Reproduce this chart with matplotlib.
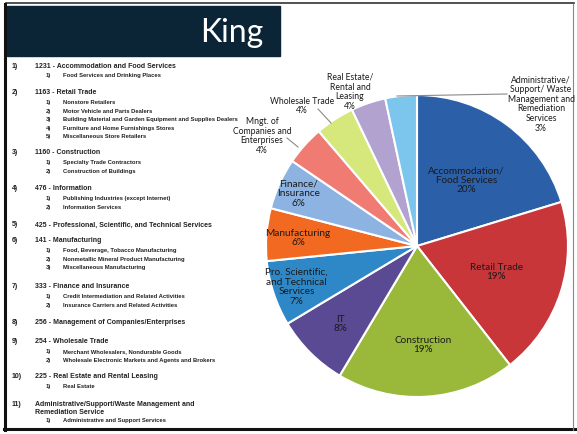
import numpy as np
import matplotlib
matplotlib.use("Agg")
from matplotlib import pyplot as plt
from matplotlib.patches import Rectangle

# pie data (counts, clockwise from 12 o'clock)
sectors = ["Accommodation/\nFood Services", "Retail Trade", "Construction", "IT",
           "Pro. Scientific,\nand Technical\nServices", "Manufacturing", "Finance/\nInsurance",
           "Mngt. of\nCompanies and\nEnterprises", "Wholesale Trade",
           "Real Estate/\nRental and\nLeasing",
           "Administrative/\nSupport/ Waste\nManagement and\nRemediation\nServices"]
counts = [1231, 1163, 1160, 476, 425, 341, 333, 256, 254, 225, 205]
pct_labels = ["20%", "19%", "19%", "8%", "7%", "6%", "6%", "4%", "4%", "4%", "3%"]
colors = ["#2b5fa8", "#c8363a", "#9ab93a", "#5a4a93", "#2e88c8", "#f26a21",
          "#8db3e2", "#ef7b72", "#d6e77c", "#b1a2cf", "#7cc6ee"]

# left hand list
headers = ["1231 - Accommodation and Food Services", "1163 - Retail Trade", "1160 - Construction",
           "476 - Information", "425 - Professional, Scientific, and Technical Services",
           "141 - Manufacturing", "333 - Finance and Insurance",
           "256 - Management of Companies/Enterprises", "254 - Wholesale Trade",
           "225 - Real Estate and Rental Leasing",
           "Administrative/Support/Waste Management and\nRemediation Service"]
subitems = [["Food Services and Drinking Places"],
            ["Nonstore Retailers", "Motor Vehicle and Parts Dealers",
             "Building Material and Garden Equipment and Supplies Dealers",
             "Furniture and Home Furnishings Stores", "Miscellaneous Store Retailers"],
            ["Specialty Trade Contractors", "Construction of Buildings"],
            ["Publishing Industries (except Internet)", "Information Services"],
            [],
            ["Food, Beverage, Tobacco Manufacturing", "Nonmetallic Mineral Product Manufacturing",
             "Miscellaneous Manufacturing"],
            ["Credit Intermediation and Related Activities", "Insurance Carriers and Related Activities"],
            [],
            ["Merchant Wholesalers, Nondurable Goods", "Wholesale Electronic Markets and Agents and Brokers"],
            ["Real Estate"],
            ["Administrative and Support Services"]]
header_y = [66, 93, 153, 189, 225, 241, 287, 323, 342, 377, 405]

W, H = 577, 435
fig = plt.figure(figsize=(W / 100, H / 100), dpi=100)
bg = fig.add_axes([0, 0, 1, 1])
bg.set_xlim(0, W)
bg.set_ylim(H, 0)
bg.axis('off')

# slide frame
bg.plot([6, 574], [4, 4], color="#333333", lw=1.2)
bg.plot([5, 5], [5, 431], color="#111111", lw=2.2)
bg.plot([4, 576], [430, 430], color="#111111", lw=2.2)
bg.plot([573, 573], [5, 431], color="#888888", lw=0.8)

# title bar
bg.add_patch(Rectangle((7, 7), 273, 50, color="#0b2536"))
bg.text(263, 33, "King", color="white", fontsize=23, family="Lato",
        ha="right", va="center")

# list text
txt = dict(family="Liberation Sans", weight="bold", color="#222222")
fs_h, fs_s = 5.0, 4.2
for i, (h, y) in enumerate(zip(headers, header_y)):
    two_lines = "\n" in h
    bg.text(12, y, "%d)" % (i + 1), fontsize=fs_h, va="center", **txt)
    if two_lines:
        bg.text(35, y - 4, h, fontsize=fs_h, va="top", linespacing=1.25, **txt)
    else:
        bg.text(35, y, h, fontsize=fs_h, va="center", **txt)
    y0 = y + (16 if two_lines else 9.5)
    for j, s in enumerate(subitems[i]):
        yy = y0 + j * 8.6
        bg.text(46, yy, "%d)" % (j + 1), fontsize=fs_s, va="center", **txt)
        bg.text(63, yy, s, fontsize=fs_s, va="center", **txt)

# pie
cx, cy, R = 417, 247, 151
ax = fig.add_axes([(cx - R) / W, (H - cy - R) / H, 2 * R / W, 2 * R / H])
wedges, _ = ax.pie(counts, colors=colors, startangle=90, counterclock=False,
                   wedgeprops=dict(edgecolor="white", linewidth=1.5))
ax.set_xlim(-1, 1)
ax.set_ylim(-1, 1)
ax.set_aspect('equal')

inside_r = [0.55, 0.55, 0.65, 0.72, 0.84, 0.79, 0.86]
for i, r in enumerate(inside_r):
    w = wedges[i]
    a = np.deg2rad((w.theta1 + w.theta2) / 2)
    ax.text(r * np.cos(a), r * np.sin(a), sectors[i] + "\n" + pct_labels[i],
            ha="center", va="center", fontsize=7.2, family="Lato",
            color="#1a1a1a", linespacing=1.1)

# outside labels: text position (pixels), leader line (pixels) or None
out_pos = [(262, 136), (302, 106), (350, 92), (541, 104)]
out_line = [((287, 139), (298, 148)), ((318, 110), (331, 124)), None,
            ((507, 95), (397, 97))]
for k, (pos, ln) in enumerate(zip(out_pos, out_line)):
    i = 7 + k
    px, py = pos
    ax.text((px - cx) / R, (cy - py) / R, sectors[i] + "\n" + pct_labels[i],
            ha="center", va="center", fontsize=6.2, family="Lato",
            color="#1a1a1a", linespacing=1.1, clip_on=False)
    if ln is not None:
        (x1, y1), (x2, y2) = ln
        ax.plot([(x1 - cx) / R, (x2 - cx) / R], [(cy - y1) / R, (cy - y2) / R],
                color="#8a8a8a", lw=0.8, clip_on=False)

fig.savefig("out.png", dpi=100)
